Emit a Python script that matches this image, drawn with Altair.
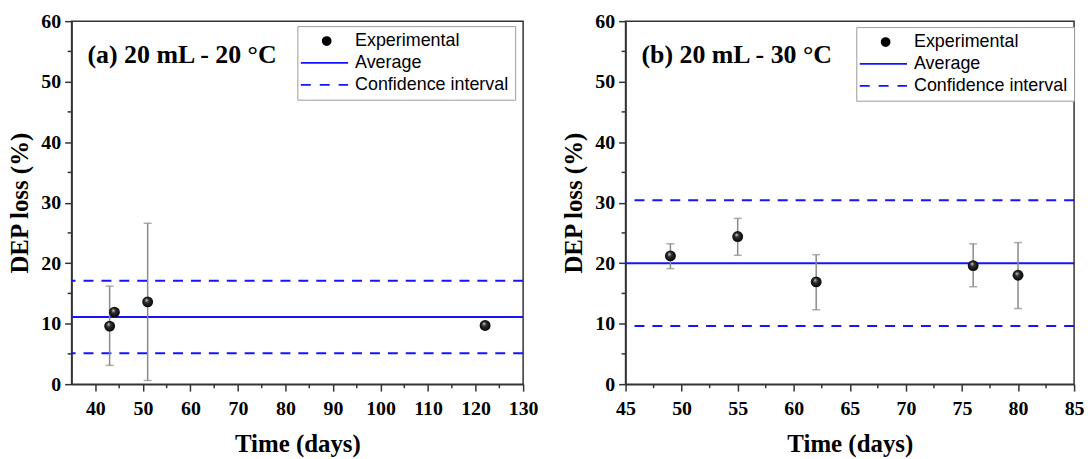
import altair as alt
import pandas as pd

series_names = ["Experimental", "Average", "Confidence interval"]

# Panel (a) 20 mL - 20 °C
a_time = [43, 44, 51, 122]
a_loss = [9.6, 11.9, 13.6, 9.7]
a_low = [3.1, 11.9, 0.6, 9.2]
a_high = [16.2, 11.9, 26.6, 10.2]
a_avg = [11.1]
a_ci = [5.1, 17.1]

# Panel (b) 20 mL - 30 °C
b_time = [49, 55, 62, 76, 80]
b_loss = [21.2, 24.4, 16.9, 19.6, 18.0]
b_low = [19.1, 21.3, 12.3, 16.1, 12.5]
b_high = [23.2, 27.4, 21.4, 23.2, 23.4]
b_avg = [20.0]
b_ci = [9.6, 30.4]

y_major = [0, 10, 20, 30, 40, 50, 60]
y_minor = [5, 15, 25, 35, 45, 55]
a_x_major = [40, 50, 60, 70, 80, 90, 100, 110, 120, 130]
a_x_minor = [45, 55, 65, 75, 85, 95, 105, 115, 125]
b_x_major = [45, 50, 55, 60, 65, 70, 75, 80, 85]
b_x_minor = [47.5, 52.5, 57.5, 62.5, 67.5, 72.5, 77.5, 82.5]

SERIF = "Liberation Serif"
SANS = "Liberation Sans"
BLUE = "#1414ff"
AXC = "#333333"

CIRCLE_PATH = "M2.1,0A0.8,0.8 0 1,0 3.7,0A0.8,0.8 0 1,0 2.1,0Z"
LINE_PATH = "M-2.3,0H7.2"
DASH_PATH = "M-2.3,0H-0.3M1.5,0H3.5M5.3,0H7.2"


def major_axis(values, title, label_pad, title_pad):
    return alt.Axis(values=values, title=title, grid=False,
                    tickSize=7, tickWidth=1.5, tickColor=AXC,
                    domainColor=AXC, domainWidth=1.5,
                    labelFont=SERIF, labelFontWeight="bold", labelFontSize=20,
                    labelColor="black", labelPadding=label_pad, labelFlush=False,
                    labelOverlap=False,
                    titleFont=SERIF, titleFontWeight="bold", titleFontSize=25,
                    titleColor="black", titlePadding=title_pad)


def panel(times, loss, low, high, avg, ci, label, xdom, xmaj, xmin, w, h, lx, ly):
    pts = pd.DataFrame({"time": times, "loss": loss, "low": low, "high": high})
    avg_df = pd.DataFrame({"value": avg})
    ci_df = pd.DataFrame({"value": ci})
    xs = alt.Scale(domain=xdom, nice=False, zero=False)
    ys = alt.Scale(domain=[0, 60], nice=False)
    xax = major_axis(xmaj, "Time (days)", 8, 13)
    yax = major_axis(y_major, "DEP loss (%)", 4, 8)

    avg_rule = alt.Chart(avg_df).mark_rule(color=BLUE, strokeWidth=2).encode(
        y=alt.Y("value:Q", scale=ys, axis=yax))
    ci_rule = alt.Chart(ci_df).mark_rule(color=BLUE, strokeWidth=2,
                                         strokeDash=[10, 8]).encode(
        y=alt.Y("value:Q", scale=ys, axis=yax))
    # minor ticks, positioned through the scales
    ymin_ticks = alt.Chart(pd.DataFrame({"v": y_minor})).mark_rule(
        color=AXC, strokeWidth=1.5).encode(
        y=alt.Y("v:Q", scale=ys, axis=yax),
        x=alt.value(-4), x2=alt.value(0))
    xmin_ticks = alt.Chart(pd.DataFrame({"v": xmin})).mark_rule(
        color=AXC, strokeWidth=1.5).encode(
        x=alt.X("v:Q", scale=xs, axis=xax),
        y=alt.value(h), y2=alt.value(h + 4))
    err = alt.Chart(pts).mark_errorbar(ticks={"size": 8}, color="#8a8a8a",
                                       thickness=1.5).encode(
        x=alt.X("time:Q", scale=xs, axis=xax),
        y=alt.Y("low:Q", scale=ys, axis=yax),
        y2="high:Q")
    grad = alt.Gradient(gradient="radial", x1=0.38, y1=0.32, r1=0.0,
                        x2=0.5, y2=0.5, r2=0.55,
                        stops=[alt.GradientStop(offset=0, color="#e0e0e0"),
                               alt.GradientStop(offset=0.35, color="#303030"),
                               alt.GradientStop(offset=1, color="#000000")])
    dots = alt.Chart(pts).mark_circle(size=120, opacity=1, color=grad).encode(
        x=alt.X("time:Q", scale=xs, axis=xax),
        y=alt.Y("loss:Q", scale=ys, axis=yax))
    leg_df = pd.DataFrame({"series": series_names})
    leg_props = dict(orient="none", legendX=lx, legendY=ly, title=None,
                     fillColor="white", strokeColor="#9a9a9a", padding=6,
                     symbolSize=100, symbolStrokeWidth=1.8, symbolOpacity=1,
                     labelFont=SANS, labelFontSize=18, labelColor="black",
                     labelOffset=34, rowPadding=4, labelLimit=300)
    legend_layer = alt.Chart(leg_df).mark_point(fill="black", opacity=0).encode(
        x=alt.value(0), y=alt.value(0),
        stroke=alt.Stroke("series:N",
                          scale=alt.Scale(domain=series_names,
                                          range=["black", BLUE, BLUE]),
                          legend=alt.Legend(**leg_props)),
        shape=alt.Shape("series:N",
                        scale=alt.Scale(domain=series_names,
                                        range=[CIRCLE_PATH, LINE_PATH, DASH_PATH]),
                        legend=alt.Legend(**leg_props)))
    txt = alt.Chart(pd.DataFrame({"label": [label]})).mark_text(
        align="left", baseline="middle", font=SERIF, fontWeight="bold",
        fontSize=26, color="black").encode(
        x=alt.value(16), y=alt.value(34), text="label:N")
    return alt.layer(avg_rule, ci_rule, ymin_ticks, xmin_ticks, err, dots,
                     legend_layer, txt).properties(width=w, height=h)


left = panel(a_time, a_loss, a_low, a_high, a_avg, a_ci, "(a) 20 mL - 20 °C",
             [35, 130], a_x_major, a_x_minor, 454, 365, 227, 5)
right = panel(b_time, b_loss, b_low, b_high, b_avg, b_ci, "(b) 20 mL - 30 °C",
              [45, 85], b_x_major, b_x_minor, 451, 365, 232, 6)

chart = alt.hconcat(left, right, spacing=22).resolve_scale(
    x="independent", y="independent", stroke="independent", shape="independent"
).properties(
    padding={"left": 7, "top": 9, "right": 5, "bottom": 2},
    background="white",
).configure_view(stroke=AXC, strokeWidth=1.5).configure_axis(
    labelFont=SERIF, labelFontWeight="bold", labelFontSize=20, labelColor="black",
    titleFont=SERIF, titleFontWeight="bold", titleFontSize=25, titleColor="black",
)

chart.save("out.html", embed_options={"renderer": "svg", "actions": False})
